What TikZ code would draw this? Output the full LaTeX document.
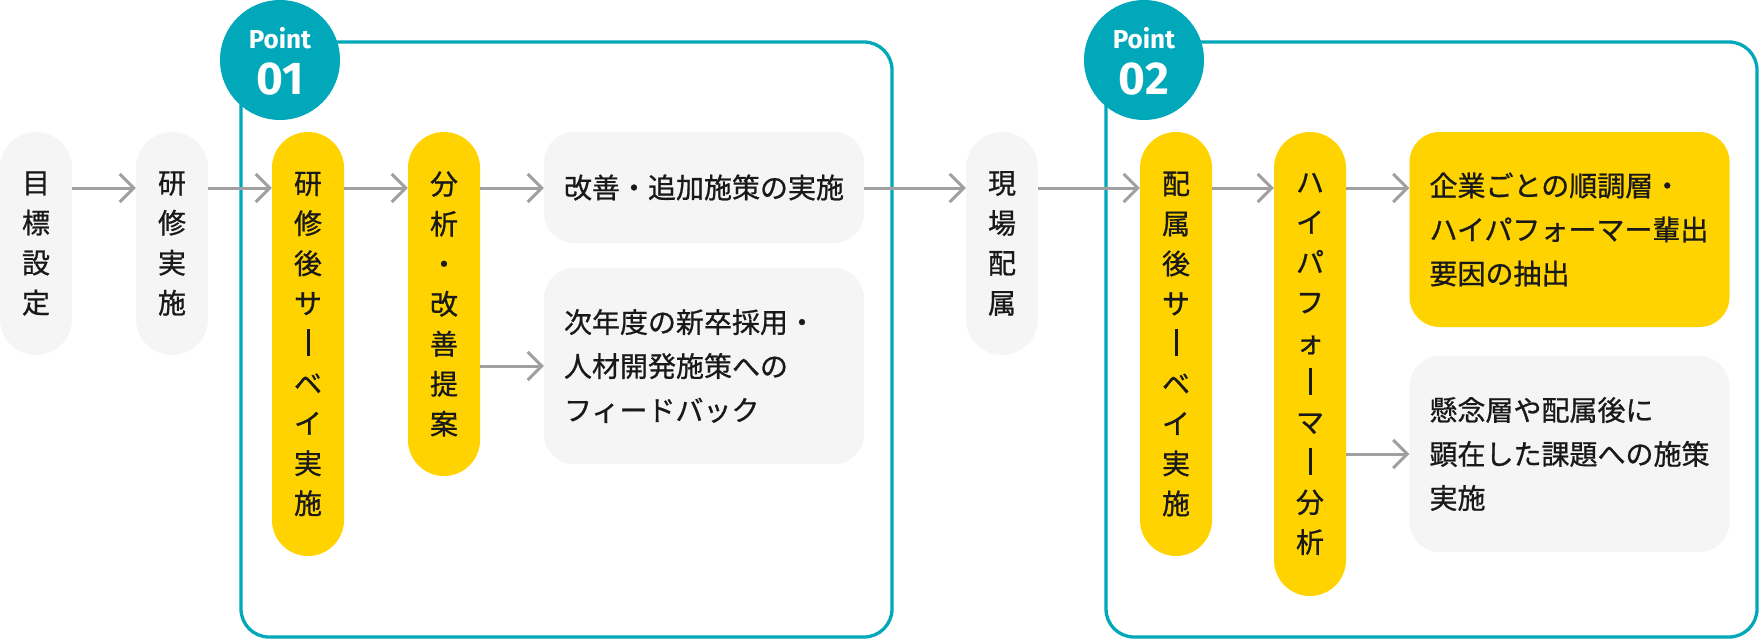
\documentclass[tikz,border=0pt]{standalone}
\usepackage{fontspec}
\usepackage{xcolor}
\usepackage{graphicx}
\usepackage{tikz}
\usetikzlibrary{arrows.meta, positioning, calc}
\setmainfont{Noto Sans CJK JP}[FakeBold=0.8]
\newfontfamily\pointfont{Fira Sans}
\definecolor{myteal}{RGB}{0,168,185}
\definecolor{myyellow}{RGB}{255,211,0}
\definecolor{mygray}{RGB}{245,245,245}
\definecolor{myarrow}{RGB}{160,160,160}
\definecolor{mydark}{RGB}{25,25,25}
\newcommand{\vbar}{\raisebox{-2pt}{\rule{3pt}{27pt}}}
\tikzset{
  pill/.style={rectangle, fill=mygray, minimum width=72pt, inner sep=0pt,
    rounded corners=36pt, align=center, text=mydark,
    font=\fontsize{28}{40}\selectfont},
  yellowpill/.style={pill, fill=myyellow},
  note/.style={rectangle, fill=mygray, text width=280pt, inner xsep=20pt,
    inner ysep=0pt, minimum width=320pt, align=left, rounded corners=30pt,
    text=mydark, font=\fontsize{28}{44}\selectfont},
  yellownote/.style={note, fill=myyellow},
  badge/.style={circle, fill=myteal, minimum size=120pt, inner sep=0pt},
  badgetop/.style={anchor=base, text=white, inner sep=0pt,
    font=\pointfont\bfseries\fontsize{26}{30}\selectfont},
  badgenum/.style={anchor=base, text=white, inner sep=0pt,
    font=\pointfont\bfseries\fontsize{46}{50}\selectfont},
  frame/.style={draw=myteal, line width=3.3pt, rounded corners=28pt},
  arrow/.style={-{Straight Barb[length=14pt, width=28pt]}, line width=3pt, color=myarrow}
}

\begin{document}
\begin{tikzpicture}[x=1pt, y=-1pt]
  \useasboundingbox (0,0) rectangle (1760,640);

  \draw[frame] (241,42) rectangle (892,637);
  \draw[frame] (1106,42) rectangle (1757,637);

  \node[badge] (pointA) at (280,60) {};
  \node[badgetop] (pointAtop) at ([yshift=12pt]pointA.center) {Point};
  \node[badgenum] (pointAnum) at ([yshift=-34pt]pointA.center) {01};
  \node[badge] (pointB) at (1144,60) {};
  \node[badgetop] (pointBtop) at ([yshift=12pt]pointB.center) {Point};
  \node[badgenum] (pointBnum) at ([yshift=-34pt]pointB.center) {02};

  \node[pill, minimum height=223pt] (goal) at (36,243.5) {目\\標\\設\\定};
  \node[pill, minimum height=223pt] (train) at (172,243.5) {研\\修\\実\\施};
  \node[yellowpill, minimum height=424pt] (surveyA) at (308,344)
    {研\\修\\後\\サ\\\vbar\\ベ\\イ\\実\\施};
  \node[yellowpill, minimum height=344pt] (analysis) at (444,304)
    {分\\析\\・\\改\\善\\提\\案};
  \node[note, minimum height=111pt] (improve) at (704,187.5) {改善・追加施策の実施};
  \node[note, minimum height=196pt] (feedback) at (704,366)
    {次年度の新卒採用・\\人材開発施策への\\フィードバック};
  \node[pill, minimum height=223pt] (deploy) at (1002,243.5) {現\\場\\配\\属};
  \node[yellowpill, minimum height=424pt] (surveyB) at (1176,344)
    {配\\属\\後\\サ\\\vbar\\ベ\\イ\\実\\施};
  \node[yellowpill, minimum height=464pt] (hipo) at (1310,364)
    {ハ\\イ\\パ\\フ\\ォ\\\vbar\\マ\\\vbar\\分\\析};
  \node[yellownote, minimum height=195pt] (factor) at (1569.5,229.5)
    {企業ごとの順調層・\\ハイパフォーマー輩出\\要因の抽出};
  \node[note, minimum height=196pt] (concern) at (1569.5,454)
    {懸念層や配属後に\\顕在した課題への施策\\実施};

  \coordinate (rowA) at (0,188);
  \foreach \a/\b in {goal/train, train/surveyA, surveyA/analysis, analysis/improve,
    improve/deploy, deploy/surveyB, surveyB/hipo, hipo/factor}
    \draw[arrow] (\a.east |- rowA) -- (\b.west |- rowA);
  \draw[arrow] (analysis.east |- feedback.west) -- (feedback.west);
  \draw[arrow] (hipo.east |- concern.west) -- (concern.west);
\end{tikzpicture}
\end{document}
